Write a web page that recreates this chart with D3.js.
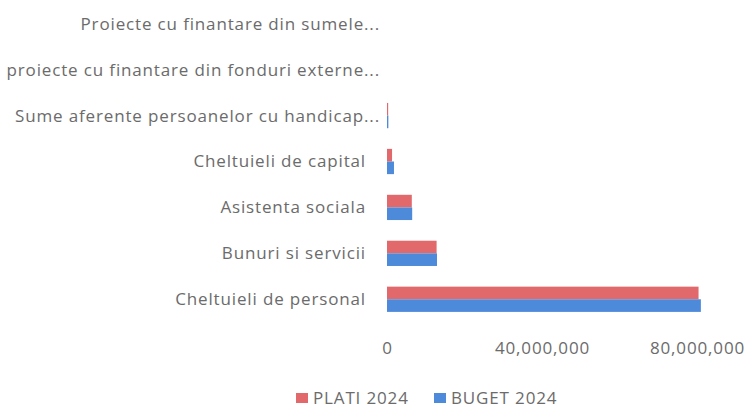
<!DOCTYPE html>
<html>
<head>
<meta charset="utf-8">
<script src="https://cdn.jsdelivr.net/npm/d3@7"></script>
<style>
  body { margin: 0; background: #fff; }
  svg text { font-family: "Open Sans", sans-serif; fill: #6b6b6b; letter-spacing: 0.85px; }
</style>
</head>
<body>
<svg id="chart" width="752" height="409"></svg>
<script>
// categories, top to bottom as drawn
const categories = [
    "Proiecte cu finantare din sumele...",
    "proiecte cu finantare din fonduri externe...",
    "Sume aferente persoanelor cu handicap...",
    "Cheltuieli de capital",
    "Asistenta sociala",
    "Bunuri si servicii",
    "Cheltuieli de personal"
];
const plati2024 = [0, 0, 300000, 1300000, 6400000, 12800000, 80400000];
const buget2024 = [0, 0, 350000, 1800000, 6500000, 12900000, 81000000];
const seriesNames = ["PLATI 2024", "BUGET 2024"];
const colors = ["#e2696b", "#4d8ad9"];
const tickValues = [0, 40000000, 80000000];

const svg = d3.select("#chart");
const fontSize = "17px";

const x = d3.scaleLinear().domain([0, 80000000]).range([387, 697]);
const y = d3.scaleBand().domain(categories).range([1, 322]).paddingInner(0.45).paddingOuter(0.22);
const ySub = d3.scaleBand().domain(seriesNames).range([0, y.bandwidth()]);

// category labels (the cut ones with "..." sit a bit further right, like excel does)
svg.append("g").selectAll("text")
    .data(categories)
    .enter().append("text")
    .attr("x", d => d.endsWith("...") ? 380 : 366)
    .attr("y", d => y(d) + y.bandwidth() / 2)
    .attr("dy", "0.35em")
    .attr("text-anchor", "end")
    .style("font-size", fontSize)
    .text(d => d);

// bars
const rows = categories.map((c, i) => ({ cat: c, vals: [plati2024[i], buget2024[i]] }));
const groups = svg.append("g").selectAll("g")
    .data(rows)
    .enter().append("g")
    .attr("transform", d => "translate(0," + y(d.cat) + ")");

groups.selectAll("rect")
    .data(d => d.vals.map((v, j) => ({ name: seriesNames[j], v: v, j: j })))
    .enter().append("rect")
    .filter(d => d.v > 0)
    .attr("x", x(0))
    .attr("y", d => ySub(d.name))
    .attr("width", d => Math.max(1, x(d.v) - x(0)))
    .attr("height", ySub.bandwidth())
    .attr("fill", d => colors[d.j]);

// x axis
const axis = d3.axisBottom(x)
    .tickValues(tickValues)
    .tickSize(0)
    .tickPadding(0)
    .tickFormat(d3.format(","));

const axisG = svg.append("g")
    .attr("transform", "translate(0,342)")
    .call(axis);
axisG.select(".domain").remove();
axisG.selectAll("text")
    .attr("fill", "#6b6b6b")
    .style("font-family", "'Open Sans', sans-serif")
    .style("font-size", fontSize);

// legend
const legend = svg.append("g").attr("transform", "translate(296,398)");
const legendX = [0, 138];
seriesNames.forEach((name, j) => {
    const g = legend.append("g").attr("transform", "translate(" + legendX[j] + ",0)");
    g.append("rect")
        .attr("x", 0).attr("y", -5)
        .attr("width", 12).attr("height", 10)
        .attr("fill", colors[j]);
    g.append("text")
        .attr("x", 17)
        .attr("dy", "0.35em")
        .style("font-size", fontSize)
        .text(name);
});
</script>
</body>
</html>
